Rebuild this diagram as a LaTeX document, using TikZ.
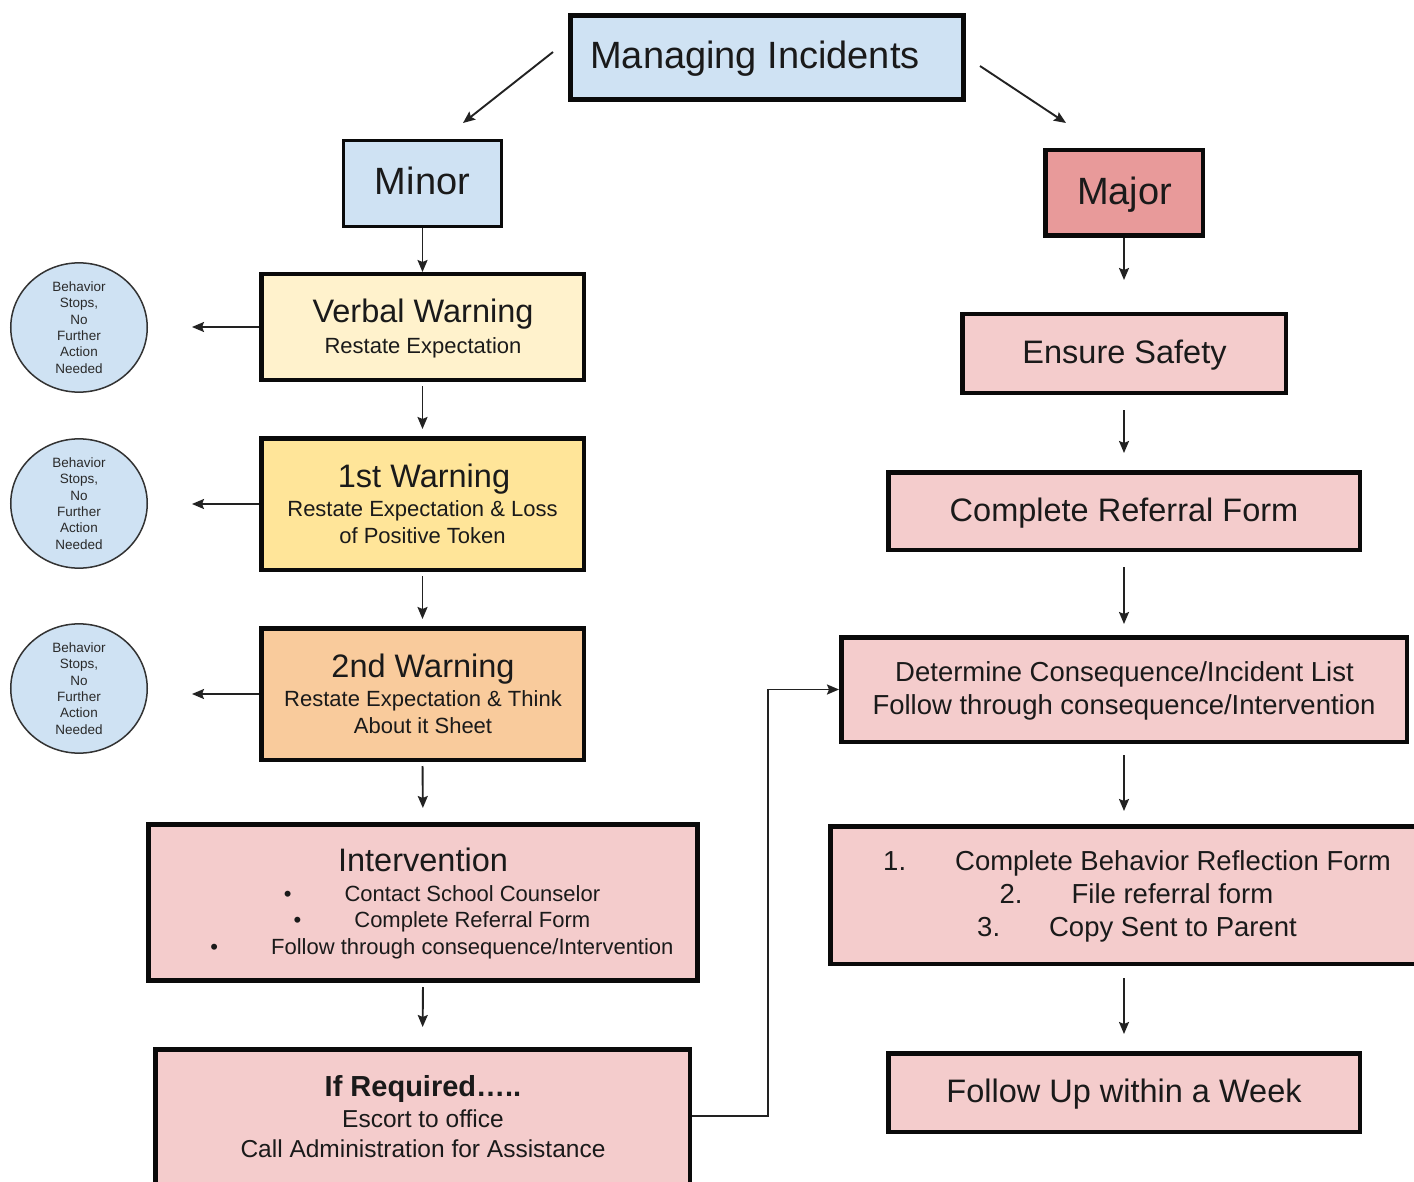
\documentclass[tikz,border=0pt]{standalone}
\usepackage{fontspec}
\setmainfont{Liberation Sans}
\usetikzlibrary{shapes.geometric,arrows.meta,calc}
\definecolor{lblue}{HTML}{CFE2F3}
\definecolor{majred}{HTML}{E89A9A}
\definecolor{cream}{HTML}{FFF2CC}
\definecolor{yel}{HTML}{FFE599}
\definecolor{orng}{HTML}{F9CB9C}
\definecolor{pink}{HTML}{F4CCCC}
\definecolor{boxline}{HTML}{0A0A0A}
\definecolor{arrline}{HTML}{222222}
\definecolor{txtcol}{HTML}{1A1A1A}
\definecolor{ovalline}{HTML}{333333}
\definecolor{ovaltxt}{HTML}{2A2A2A}
\begin{document}
\begin{tikzpicture}[x=1pt,y=-1pt,
  box/.style={draw=boxline,line width=4.5pt,inner sep=0pt,rectangle},
  arr/.style={draw=arrline,line width=1.9pt,-{Stealth[length=12pt,width=10pt,inset=2pt]}},
  txt/.style={inner sep=0pt,anchor=base,text=txtcol},
  tA/.style={txt,font=\fontsize{38}{44}\selectfont},
  tB/.style={txt,font=\fontsize{32.5}{38}\selectfont},
  tC/.style={txt,font=\fontsize{22}{26}\selectfont},
  tF/.style={txt,font=\fontsize{24.5}{29}\selectfont},
  tD/.style={txt,font=\fontsize{27.5}{32}\selectfont},
  tE/.style={txt,font=\fontsize{29}{34}\selectfont\bfseries},
  oval/.style={ellipse,draw=ovalline,line width=1.5pt,fill=lblue,minimum width=136.5pt,minimum height=119pt,inner sep=0pt,align=center,text=ovaltxt,font=\fontsize{13.5}{16.3}\selectfont}]
\useasboundingbox (0,0) rectangle (1414,1182);
\clip (0,0) rectangle (1414,1182);
\fill[white] (0,0) rectangle (1414,1182);

% boxes
\node[box,fill=lblue,line width=5pt,minimum width=393pt,minimum height=84pt] (mi) at (767,57.5) {};
\node[box,fill=lblue,line width=3pt,minimum width=158pt,minimum height=86pt] (minor) at (422.5,183.5) {};
\node[box,fill=majred,minimum width=157.5pt,minimum height=85.5pt] (major) at (1124,193) {};
\node[box,fill=cream,minimum width=322.5pt,minimum height=105.5pt] (verbal) at (422.5,327) {};
\node[box,fill=yel,minimum width=322.5pt,minimum height=131.5pt] (first) at (422.5,504) {};
\node[box,fill=orng,minimum width=322.5pt,minimum height=131.5pt] (second) at (422.5,694) {};
\node[box,fill=pink,line width=5pt,minimum width=549pt,minimum height=156pt] (interv) at (423,902.5) {};
\node[box,fill=pink,minimum width=534.5pt,minimum height=148.5pt] (ifreq) at (422.5,1123.5) {};
\node[box,fill=pink,minimum width=323.5pt,minimum height=78.5pt] (ensure) at (1124,353.5) {};
\node[box,fill=pink,minimum width=471.5pt,minimum height=77.5pt] (complete) at (1124,511) {};
\node[box,fill=pink,minimum width=565.5pt,minimum height=104.5pt] (determine) at (1124,689.5) {};
\node[box,fill=pink,minimum width=607.5pt,minimum height=137.5pt] (numbered) at (1134,895) {};
\node[box,fill=pink,minimum width=471.5pt,minimum height=78.5pt] (followup) at (1124,1092.5) {};

% ovals
\node[oval] (e1) at (79,327.5) {Behavior\\Stops,\\No\\Further\\Action\\Needed};
\node[oval] (e2) at (79,503.5) {Behavior\\Stops,\\No\\Further\\Action\\Needed};
\node[oval] (e3) at (79,688.5) {Behavior\\Stops,\\No\\Further\\Action\\Needed};

% texts
\node[tA] (miT) at (755,69) {Managing Incidents};
\node[tA] (minorT) at (422.5,195) {Minor};
\node[tA] (majorT) at (1124.5,205) {Major};
\node[tB] (verbalT) at (423,323) {Verbal Warning};
\node[tC] (verbalS) at (423,353) {Restate Expectation};
\node[tB] (firstT) at (424,487) {1st Warning};
\node[tC] (firstS1) at (422.5,516) {Restate Expectation \& Loss};
\node[tC] (firstS2) at (422.5,543) {of Positive Token};
\node[tB] (secondT) at (423,677) {2nd Warning};
\node[tC] (secondS1) at (423,706) {Restate Expectation \& Think};
\node[tC] (secondS2) at (423,733) {About it Sheet};
\node[tB] (intervT) at (423,871) {Intervention};
\node[tC] (intervB1) at (442,901) {•\hspace{53pt}Contact School Counselor};
\node[tC] (intervB2) at (442,927) {•\hspace{53pt}Complete Referral Form};
\node[tC] (intervB3) at (442,954) {•\hspace{53pt}Follow through consequence/Intervention};
\node[tE] (ifreqT) at (423,1096) {If Required…..};
\node[tF] (ifreqS1) at (423,1127) {Escort to office};
\node[tF] (ifreqS2) at (423,1157) {Call Administration for Assistance};
\node[tB] (ensureT) at (1124.5,363) {Ensure Safety};
\node[tB] (completeT) at (1124,521) {Complete Referral Form};
\node[tD] (determineS1) at (1124.5,681) {Determine Consequence/Incident List};
\node[tD] (determineS2) at (1124,714) {Follow through consequence/Intervention};
\node[tD] (numS1) at (1137,870) {1.\hspace{49pt}Complete Behavior Reflection Form};
\node[tD] (numS2) at (1136.5,903) {2.\hspace{49pt}File referral form};
\node[tD] (numS3) at (1137,936) {3.\hspace{49pt}Copy Sent to Parent};
\node[tB] (followupT) at (1124,1102) {Follow Up within a Week};

% connectors
\coordinate (a1s) at (553,52);
\coordinate (a1e) at (463,123);
\coordinate (a2s) at (980,66);
\coordinate (a2e) at (1066,123);
\draw[arr] (a1s) -- (a1e);
\draw[arr] (a2s) -- (a2e);
\draw[arr] (minor.south) -- (verbal.north);
\draw[arr,shorten <=4pt,shorten >=7pt] (verbal.south) -- (first.north);
\draw[arr,shorten <=4pt,shorten >=7pt] (first.south) -- (second.north);
\draw[arr,shorten <=4pt,shorten >=14pt] (second.south) -- (interv.north);
\draw[arr,shorten <=4pt,shorten >=20pt] (interv.south) -- (ifreq.north);
\draw[arr,shorten >=32pt] (major.south) -- (ensure.north);
\draw[arr,shorten <=15pt,shorten >=17pt] (ensure.south) -- (complete.north);
\draw[arr,shorten <=15pt,shorten >=11pt] (complete.south) -- (determine.north);
\draw[arr,shorten <=11pt,shorten >=13pt] (determine.south) -- (determine.south |- numbered.north);
\draw[arr,shorten <=12pt,shorten >=17pt] (numbered.south -| followup.north) -- (followup.north);
\draw[arr,shorten >=44pt] (verbal.west) -- (verbal.west -| e1.east);
\draw[arr,shorten >=44pt] (first.west) -- (first.west -| e2.east);
\draw[arr,shorten >=44pt] (second.west) -- (second.west -| e3.east);
\draw[arr] ([yshift=7.5pt]ifreq.east) -- ++(76,0) |- (determine.west);
\end{tikzpicture}
\end{document}
